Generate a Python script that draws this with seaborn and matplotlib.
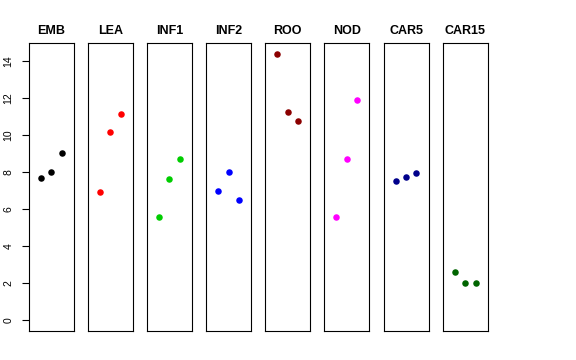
import matplotlib
matplotlib.use("Agg")
import matplotlib.pyplot as plt
import pandas as pd
import seaborn as sns

sns.set_style("white")
plt.rcParams["font.family"] = ["Liberation Sans", "DejaVu Sans"]
plt.rcParams["text.color"] = "black"
plt.rcParams["ytick.color"] = "black"
plt.rcParams["ytick.labelcolor"] = "black"

tissues = ["EMB", "LEA", "INF1", "INF2", "ROO", "NOD", "CAR5", "CAR15"]
colors = ["#000000", "#FF0000", "#00CD00", "#0000FF", "#8B0000", "#FF00FF", "#00008B", "#006400"]
replicate = [1, 2, 3]
values = {
    "EMB": [7.70, 8.01, 9.01],
    "LEA": [6.93, 10.14, 11.13],
    "INF1": [5.60, 7.63, 8.72],
    "INF2": [6.98, 7.99, 6.50],
    "ROO": [14.37, 11.24, 10.75],
    "NOD": [5.58, 8.71, 11.87],
    "CAR5": [7.49, 7.72, 7.97],
    "CAR15": [2.61, 2.03, 2.03],
}
yticks = [0, 2, 4, 6, 8, 10, 12, 14]

rows = []
for t in tissues:
    for r, v in zip(replicate, values[t]):
        rows.append({"tissue": t, "rep": r, "value": v})
df = pd.DataFrame(rows)

ymax = df["value"].max()
pad = 0.04 * ymax

fig, axes = plt.subplots(1, len(tissues), figsize=(5.76, 3.6), dpi=100, sharey=True)
fig.subplots_adjust(left=0.0498, right=0.8467, bottom=0.0806, top=0.8797, wspace=0.314)

for ax, t, c in zip(axes, tissues, colors):
    sns.scatterplot(data=df[df["tissue"] == t], x="rep", y="value", color=c,
                    s=22, linewidth=0, ax=ax, legend=False)
    ax.set_xlim(-0.16, 4.16)
    ax.set_ylim(-pad, ymax + pad)
    ax.set_xticks([])
    ax.set_xlabel("")
    ax.set_ylabel("")
    ax.set_title(t, fontsize=9, fontweight="bold", pad=7, color="black")
    for sp in ax.spines.values():
        sp.set_visible(True)
        sp.set_color("black")
        sp.set_linewidth(0.8)
    ax.tick_params(axis="y", left=False, labelleft=False)

axes[0].set_yticks(yticks)
axes[0].tick_params(axis="y", left=True, labelleft=True, length=5, width=0.8,
                    labelsize=7.5, pad=6, color="black", labelcolor="black")
for lab in axes[0].get_yticklabels():
    lab.set_rotation(90)
    lab.set_va("center")

fig.savefig("out.png", dpi=100)
